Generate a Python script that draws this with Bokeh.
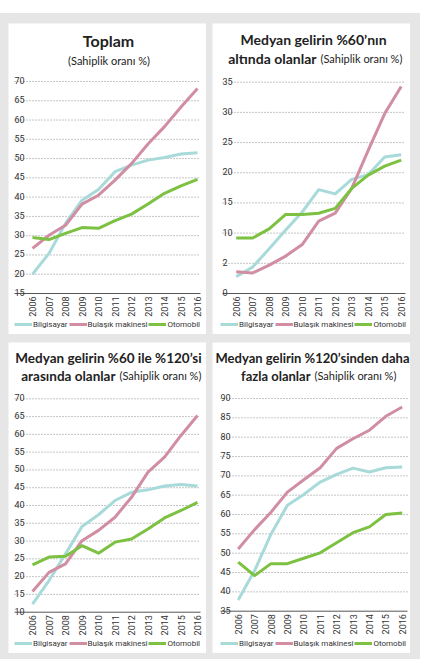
import math
from bokeh.plotting import figure
from bokeh.models import GridBox, Label, Legend, LegendItem, Range1d
from bokeh.core.properties import value
from bokeh.embed import file_html
from bokeh.resources import INLINE

YEARS = [2006, 2007, 2008, 2009, 2010, 2011, 2012, 2013, 2014, 2015, 2016]
YEAR_LABELS = [str(y) for y in YEARS]
SERIES_NAMES = ["Bilgisayar", "Bulaşık makinesi", "Otomobil"]

TOPLAM_BILGISAYAR = [20.0, 25.4, 33.2, 39.2, 42.0, 46.6, 48.3, 49.6, 50.3, 51.2, 51.5]
TOPLAM_BULASIK = [26.7, 30.1, 32.7, 38.2, 40.5, 44.4, 48.7, 53.8, 58.3, 63.4, 68.2]
TOPLAM_OTOMOBIL = [29.5, 29.0, 30.6, 32.1, 31.9, 33.9, 35.6, 38.2, 41.0, 42.9, 44.6]

ALT_BILGISAYAR = [2.8, 4.4, 7.4, 10.5, 13.5, 17.2, 16.5, 18.9, 19.7, 22.6, 23.0]
ALT_BULASIK = [3.6, 3.4, 4.7, 6.2, 8.1, 12.0, 13.3, 17.4, 23.7, 29.8, 34.3]
ALT_OTOMOBIL = [9.2, 9.2, 10.7, 13.1, 13.1, 13.3, 14.1, 17.4, 19.6, 21.1, 22.1]

ORTA_BILGISAYAR = [12.3, 18.9, 26.4, 34.1, 37.4, 41.4, 43.7, 44.4, 45.5, 45.9, 45.5]
ORTA_BULASIK = [15.8, 21.2, 23.6, 30.1, 33.0, 36.7, 42.3, 49.4, 53.6, 59.7, 65.3]
ORTA_OTOMOBIL = [23.3, 25.5, 25.7, 28.7, 26.6, 29.7, 30.6, 33.4, 36.5, 38.6, 40.9]

UST_BILGISAYAR = [37.9, 45.5, 54.9, 62.4, 65.2, 68.4, 70.4, 72.0, 71.0, 72.1, 72.3]
UST_BULASIK = [51.1, 56.1, 60.6, 65.8, 69.0, 72.1, 77.1, 79.6, 81.8, 85.4, 87.8]
UST_OTOMOBIL = [47.7, 44.2, 47.3, 47.3, 48.7, 50.1, 52.7, 55.3, 56.8, 60.0, 60.4]

TOPLAM_TICKS = [15, 20, 25, 30, 35, 40, 45, 50, 55, 60, 65, 70]
TOPLAM_TICK_LABELS = ["15", "20", "25", "30", "35", "40", "45", "50", "55", "60", "65", "70"]
ALT_TICKS = [0, 5, 10, 15, 20, 25, 30, 35]
ALT_TICK_LABELS = ["0", "2", "10", "15", "20", "25", "30", "35"]
ORTA_TICKS = [10, 15, 20, 25, 30, 35, 40, 45, 50, 55, 60, 65, 70]
ORTA_TICK_LABELS = ["10", "15", "20", "25", "30", "35", "40", "45", "50", "55", "60", "65", "70"]
UST_TICKS = [35, 40, 45, 50, 55, 60, 65, 70, 75, 80, 85, 90]
UST_TICK_LABELS = ["35", "40", "45", "50", "55", "60", "65", "70", "75", "80", "85", "90"]

TITLE_TOPLAM = "Toplam"
TITLE_ALT = ["Medyan gelirin %60’nın", "altında olanlar"]
TITLE_ORTA = ["Medyan gelirin %60 ile %120’si", "arasında olanlar"]
TITLE_UST = ["Medyan gelirin %120’sinden daha", "fazla olanlar"]
SUBTITLE = "(Sahiplik oranı %)"

COLORS = ["#a8dada", "#d18ea3", "#7cc142"]
FONT = "Roboto"
TFONT = "Lato"
BG = "#e6e6e6"
W, H = 198, 311


def make_panel(series, ticks, tick_labels, plot_lr, xpos, ypos, leg_x):
    # plot_lr: left/right end of grid lines in panel px; xpos: px of first/last year
    # ypos: px (from panel top) of the top and bottom ticks
    gl, gr = plot_lr
    x0p, x1p = xpos
    xs = (x1p - x0p) / (YEARS[-1] - YEARS[0])
    xr = (YEARS[0] - x0p / xs, YEARS[-1] + (W - x1p) / xs)
    gx0 = YEARS[0] - (x0p - gl) / xs
    gx1 = YEARS[-1] + (gr - x1p) / xs
    t0p, t1p = ypos
    ys = (t1p - t0p) / (ticks[-1] - ticks[0])
    yr = (ticks[0] - (H - t1p) / ys, ticks[-1] + t0p / ys)

    p = figure(width=W, height=H, output_backend="svg", toolbar_location=None,
               x_range=Range1d(*xr), y_range=Range1d(*yr),
               x_axis_location=None, y_axis_location=None,
               min_border=0)
    p.outline_line_color = None
    p.background_fill_color = "white"
    p.border_fill_color = "white"
    p.xgrid.visible = False
    p.ygrid.visible = False

    n = len(ticks) - 1
    p.segment(x0=[gx0] * n, x1=[gx1] * n, y0=ticks[1:], y1=ticks[1:],
              line_color="#8c8c8c", line_width=1, line_dash="1 2")
    p.segment(x0=[gx0], x1=[gx1], y0=[ticks[0]], y1=[ticks[0]],
              line_color="#555555", line_width=1)

    p.text(x=[gx0] * len(ticks), y=ticks, text=tick_labels,
           text_font=value(FONT), text_font_size=value("9px"),
           text_color="#333333", text_align="left", text_baseline="alphabetic",
           y_offset=-1)
    p.text(x=YEARS, y=[ticks[0]] * len(YEARS), text=YEAR_LABELS,
           angle=math.pi / 2, text_font=value(FONT), text_font_size=value("9px"),
           text_color="#333333", text_align="right", text_baseline="middle",
           y_offset=3)

    items = []
    for vals, name, col in zip(series, SERIES_NAMES, COLORS):
        r = p.line(YEARS, vals, line_color=col, line_width=3, line_join="round")
        items.append(LegendItem(label=name, renderers=[r]))
    leg = Legend(items=items, orientation="horizontal", location=(leg_x, 5),
                 label_text_font=FONT, label_text_font_size="8px",
                 label_text_color="#333333", glyph_width=18, glyph_height=8,
                 label_standoff=1, spacing=1, padding=0, margin=0,
                 label_height=10, border_line_color=None,
                 background_fill_alpha=0)
    p.add_layout(leg, "center")
    return p


def add_text(p, px, py, text, size, bold, align):
    p.add_layout(Label(x=px, y=H - py, x_units="screen", y_units="screen",
                       text=text, text_font=TFONT, text_font_size=size,
                       text_font_style="bold" if bold else "normal",
                       text_color="#222222", text_align=align,
                       text_baseline="alphabetic"))


p1 = make_panel([TOPLAM_BILGISAYAR, TOPLAM_BULASIK, TOPLAM_OTOMOBIL],
                TOPLAM_TICKS, TOPLAM_TICK_LABELS, (6, 192), (24, 189), (58, 270), 6)
add_text(p1, 100, 17, TITLE_TOPLAM, "16px", True, "center")
add_text(p1, 100.5, 37, SUBTITLE, "11px", False, "center")

p2 = make_panel([ALT_BILGISAYAR, ALT_BULASIK, ALT_OTOMOBIL],
                ALT_TICKS, ALT_TICK_LABELS, (10, 193), (23.7, 188.7), (58.7, 270), 8)
add_text(p2, 101, 16, TITLE_ALT[0], "14px", True, "center")
add_text(p2, 104, 35, TITLE_ALT[1], "14px", True, "right")
add_text(p2, 108, 35, SUBTITLE, "11px", False, "left")

p3 = make_panel([ORTA_BILGISAYAR, ORTA_BULASIK, ORTA_OTOMOBIL],
                ORTA_TICKS, ORTA_TICK_LABELS, (6, 192), (24, 189), (56.3, 269.7), 6)
add_text(p3, 100, 15, TITLE_ORTA[0], "13.5px", True, "center")
add_text(p3, 107, 33, TITLE_ORTA[1], "13.5px", True, "right")
add_text(p3, 111, 33, SUBTITLE, "11px", False, "left")

p4 = make_panel([UST_BILGISAYAR, UST_BULASIK, UST_OTOMOBIL],
                UST_TICKS, UST_TICK_LABELS, (8, 195), (25.7, 189.7), (56, 268.7), 8)
add_text(p4, 100, 15, TITLE_UST[0], "13px", True, "center")
add_text(p4, 98, 33, TITLE_UST[1], "13px", True, "right")
add_text(p4, 102, 33, SUBTITLE, "11px", False, "left")

grid = GridBox(children=[(p1, 0, 0), (p2, 0, 1), (p3, 1, 0), (p4, 1, 1)],
               spacing=(8, 6), margin=(13, 0, 0, 0),
               styles={"background-color": BG, "padding": "10px 10px 6px 8px"})

open("out.html", "w").write(file_html(grid, INLINE))
